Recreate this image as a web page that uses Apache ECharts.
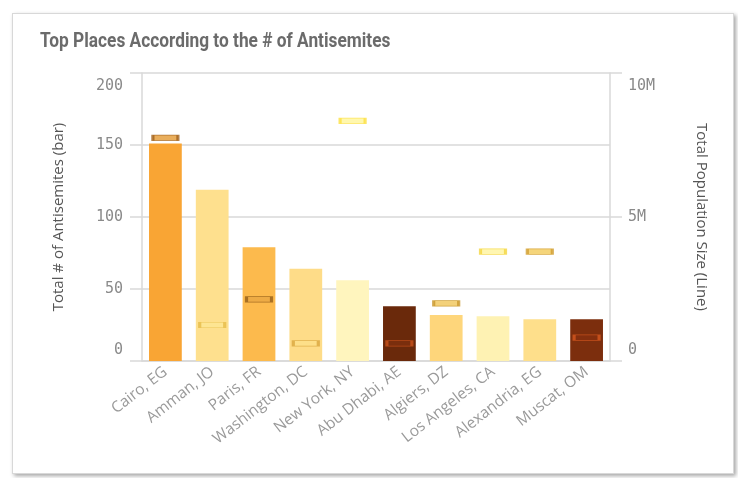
<!DOCTYPE html>
<html><head><meta charset="utf-8">
<script src="https://cdn.jsdelivr.net/npm/echarts@6/dist/echarts.min.js"></script>
<style>
html,body{margin:0;padding:0;background:#fff;width:738px;height:478px;overflow:hidden}
#card{position:absolute;left:12px;top:13px;width:720px;height:459px;border:1px solid #d8d8d8;box-shadow:2px 2px 4px rgba(0,0,0,0.35);background:#fff}
#chart{position:absolute;left:0;top:0;width:738px;height:478px}
</style></head>
<body><div id="card"></div><div id="chart"></div>
<script>
const titleText = "Top Places According to the # of Antisemites";
const categories = ["Cairo, EG","Amman, JO","Paris, FR","Washington, DC","New York, NY","Abu Dhabi, AE","Algiers, DZ","Los Angeles, CA","Alexandria, EG","Muscat, OM"];
const antisemites = [151, 119, 79, 64, 56, 38, 32, 31, 29, 29];
const population = [7.75e6, 1.25e6, 2.14e6, 0.61e6, 8.34e6, 0.61e6, 2.0e6, 3.8e6, 3.8e6, 0.81e6];
const barColors = ["#F9A534","#FEE08E","#FCBA4D","#FEDC88","#FFF5BE","#6A290B","#FED67B","#FEF2B3","#FEDF8B","#7C2E0D"];
const markerFill = ["#E39A33","#FDE694","#E8A844","#FDE08A","#FFF59A","#7E2F0E","#F0C659","#FFF49E","#F3CB5A","#86300F"];
const markerBorder = ["#A0601A","#E6BC48","#96601A","#D9A63E","#FCE040","#C9521B","#C8962A","#F4D640","#D19E30","#D4581F"];
const leftTicks = [0,50,100,150,200];
const rightTicks = ["0","5M","10M"];

const chart = echarts.init(document.getElementById('chart'), null, {renderer:'canvas'});
chart.setOption({
  animation:false,
  graphic:[{type:'text',x:40,y:32,scaleX:0.865,
    style:{text:titleText,fill:'#6b6b6b',font:'bold 20px Roboto'}}],
  grid:{left:142,right:128,top:73,bottom:117,containLabel:false},
  xAxis:{type:'category',data:categories,
    axisLine:{show:true,lineStyle:{color:'#d9d9d9',width:1.5}},
    axisTick:{show:false},
    axisLabel:{rotate:38,interval:0,color:'#9a9a9a',fontFamily:'Open Sans',fontSize:15.5,margin:9}},
  yAxis:[{type:'value',min:0,max:200,interval:50,
    name:"Total # of Antisemites (bar)",nameLocation:'middle',nameGap:76,nameRotate:90,
    nameTextStyle:{color:'#555',fontFamily:'Open Sans',fontSize:15},
    axisLine:{show:true,lineStyle:{color:'#d9d9d9',width:1.5}},
    axisTick:{show:true,length:12,lineStyle:{color:'#d9d9d9',width:1.5}},
    splitLine:{show:true,lineStyle:{color:'#d9d9d9',width:1.5}},
    axisLabel:{color:'#8a8a8a',fontFamily:'DejaVu Sans Mono',fontSize:15,margin:19,
      formatter:v=>leftTicks.includes(v)?'{'+(v===200?'t':v===0?'b':'m')+'|'+v+'}':'',
      rich:{t:{padding:[27,0,0,0]},b:{padding:[0,0,22,0]},m:{}}}},
   {type:'value',min:0,max:10e6,interval:5e6,position:'right',
    name:"Total Population Size (Line)",nameLocation:'middle',nameGap:84,nameRotate:-90,
    nameTextStyle:{color:'#555',fontFamily:'Open Sans',fontSize:15},
    axisLine:{show:true,lineStyle:{color:'#d9d9d9',width:1.5}},
    axisTick:{show:true,length:12,lineStyle:{color:'#d9d9d9',width:1.5}},
    splitLine:{show:false},
    axisLabel:{color:'#8a8a8a',fontFamily:'DejaVu Sans Mono',fontSize:15,margin:18,
      formatter:v=>{const i=Math.round(v/5e6);return '{'+(i===2?'t':i===0?'b':'m')+'|'+rightTicks[i]+'}';},
      rich:{t:{padding:[27,0,0,0]},b:{padding:[0,0,22,0]},m:{}}}}],
  series:[
    {type:'bar',yAxisIndex:0,barCategoryGap:'30%',
      data:antisemites.map((v,i)=>({value:v,itemStyle:{color:barColors[i]}}))},
    {type:'scatter',yAxisIndex:1,symbol:'rect',symbolSize:[25,5.5],z:5,
      data:population.map((v,i)=>({value:v,itemStyle:{color:markerFill[i],borderColor:markerBorder[i],borderWidth:1.5}}))}
  ]
});
</script></body></html>
